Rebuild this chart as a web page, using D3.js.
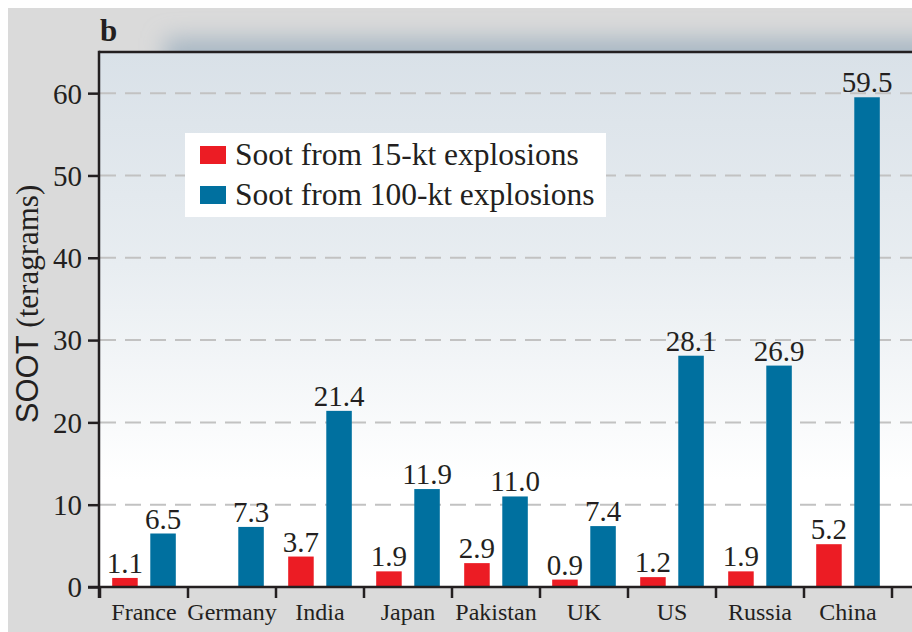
<!DOCTYPE html>
<html>
<head>
<meta charset="utf-8">
<script src="https://cdn.jsdelivr.net/npm/d3@7"></script>
<style>
  html, body { margin: 0; padding: 0; background: #ffffff; }
  svg { display: block; }
</style>
</head>
<body>
<svg id="chart" width="912" height="632"></svg>
<script>
const categories = ["France", "Germany", "India", "Japan", "Pakistan", "UK", "US", "Russia", "China"];
const soot15 = [1.1, null, 3.7, 1.9, 2.9, 0.9, 1.2, 1.9, 5.2];
const soot100 = [6.5, 7.3, 21.4, 11.9, 11.0, 7.4, 28.1, 26.9, 59.5];
const seriesNames = ["Soot from 15-kt explosions", "Soot from 100-kt explosions"];
const seriesColors = ["#ec1c24", "#00709f"];
const yTicks = [0, 10, 20, 30, 40, 50, 60];
const gridTicks = [10, 20, 30, 40, 50, 60];

const svg = d3.select("#chart");
const serif = "'Liberation Serif', 'Times New Roman', serif";
const sans = "'Liberation Sans', Arial, sans-serif";
const ink = "#231f20";

const plot = { left: 100, right: 912, top: 52, bottom: 587 };

const defs = svg.append("defs");
const grad = defs.append("linearGradient").attr("id", "bgGrad")
  .attr("x1", 0).attr("y1", 0).attr("x2", 0).attr("y2", 1);
grad.append("stop").attr("offset", "0%").attr("stop-color", "#d9e1e8");
grad.append("stop").attr("offset", "40%").attr("stop-color", "#e8edf1");
grad.append("stop").attr("offset", "80%").attr("stop-color", "#ffffff");
grad.append("stop").attr("offset", "100%").attr("stop-color", "#ffffff");

const blur = defs.append("filter").attr("id", "blur")
  .attr("x", "-20%").attr("y", "-100%").attr("width", "140%").attr("height", "300%");
blur.append("feGaussianBlur").attr("stdDeviation", 11);

// outer gray panel
svg.append("rect").attr("x", 8).attr("y", 8).attr("width", 904).attr("height", 624)
  .attr("fill", "#dadada");

// shadow above the plot frame
svg.append("rect").attr("x", 165).attr("y", 38).attr("width", 800).attr("height", 40)
  .attr("fill", "#a9b8c4").attr("filter", "url(#blur)");

// plot background
svg.append("rect").attr("x", plot.left).attr("y", plot.top)
  .attr("width", plot.right - plot.left).attr("height", plot.bottom - plot.top)
  .attr("fill", "url(#bgGrad)");

const x0 = d3.scaleBand().domain(categories).range([plot.left, 892]).paddingInner(0).paddingOuter(0);
const x1 = d3.scaleBand().domain([0, 1]).range([0, x0.bandwidth()]).paddingInner(0.33).paddingOuter(0.32);
const y = d3.scaleLinear().domain([0, 65]).range([plot.bottom, plot.top]);

// gridlines
svg.append("g").selectAll("line").data(gridTicks).join("line")
  .attr("x1", plot.left).attr("x2", plot.right)
  .attr("y1", d => y(d)).attr("y2", d => y(d))
  .attr("stroke", "#c2c2c2").attr("stroke-width", 2)
  .attr("stroke-dasharray", "16,9");

// legend
const lg = svg.append("g");
lg.append("rect").attr("x", 185).attr("y", 133).attr("width", 421).attr("height", 84).attr("fill", "#ffffff");
seriesNames.forEach((name, i) => {
  const cy = 155 + i * 40;
  lg.append("rect").attr("x", 200).attr("y", cy - 9).attr("width", 26).attr("height", 18)
    .attr("fill", seriesColors[i]);
  lg.append("text").attr("x", 235).attr("y", cy + 10)
    .attr("font-family", serif).attr("font-size", 31.5).attr("fill", ink)
    .text(name);
});

// bars
const rows = categories.map((c, i) => ({ cat: c, vals: [soot15[i], soot100[i]] }));
const groups = svg.append("g").selectAll("g").data(rows).join("g")
  .attr("transform", d => `translate(${x0(d.cat)},0)`);
const barData = d => d.vals.map((v, k) => ({ k, v })).filter(e => e.v != null);
groups.selectAll("rect").data(barData).join("rect")
  .attr("x", e => x1(e.k)).attr("width", x1.bandwidth())
  .attr("y", e => y(e.v)).attr("height", e => y(0) - y(e.v))
  .attr("fill", e => seriesColors[e.k]);
groups.selectAll("text").data(barData).join("text")
  .attr("x", e => x1(e.k) + x1.bandwidth() / 2)
  .attr("y", e => y(e.v) - 5)
  .attr("text-anchor", "middle")
  .attr("font-family", serif).attr("font-size", 29).attr("fill", ink)
  .text(e => e.v.toFixed(1));

// frame lines
svg.append("line").attr("x1", 99).attr("x2", plot.right).attr("y1", plot.top).attr("y2", plot.top)
  .attr("stroke", ink).attr("stroke-width", 2.5);
svg.append("line").attr("x1", 99).attr("x2", 99).attr("y1", plot.top - 1.25).attr("y2", 598)
  .attr("stroke", ink).attr("stroke-width", 2.5);
svg.append("line").attr("x1", 88).attr("x2", plot.right).attr("y1", plot.bottom).attr("y2", plot.bottom)
  .attr("stroke", ink).attr("stroke-width", 2.5);

// y axis
const yAxis = svg.append("g").attr("transform", "translate(99,0)")
  .call(d3.axisLeft(y).tickValues(yTicks).tickSize(11).tickPadding(6).tickFormat(d3.format("d")));
yAxis.select(".domain").remove();
yAxis.selectAll(".tick line").attr("stroke", ink).attr("stroke-width", 2.5);
yAxis.selectAll(".tick text").attr("font-family", serif).attr("font-size", 29).attr("fill", ink)
  .attr("dy", "0.34em");

// x axis labels
const xAxis = svg.append("g").attr("transform", `translate(0,${plot.bottom})`)
  .call(d3.axisBottom(x0).tickSize(0).tickPadding(16));
xAxis.select(".domain").remove();
xAxis.selectAll(".tick text").attr("font-family", serif).attr("font-size", 24).attr("fill", ink);

// x boundary ticks
const bounds = categories.map(c => x0(c)).concat([x0.range()[1]]);
svg.append("g").selectAll("line").data(bounds).join("line")
  .attr("x1", d => d).attr("x2", d => d)
  .attr("y1", plot.bottom).attr("y2", 598)
  .attr("stroke", ink).attr("stroke-width", 2.5);

// y title
const yt = svg.append("text")
  .attr("transform", "translate(38,304) rotate(-90)")
  .attr("text-anchor", "middle").attr("fill", ink).attr("font-size", 31);
yt.append("tspan").attr("font-family", sans).text("SOOT");
yt.append("tspan").attr("font-family", serif).text(" (teragrams)");

// panel letter
svg.append("text").attr("x", 100).attr("y", 41)
  .attr("font-family", serif).attr("font-weight", "bold").attr("font-size", 31).attr("fill", ink)
  .text("b");
</script>
</body>
</html>
